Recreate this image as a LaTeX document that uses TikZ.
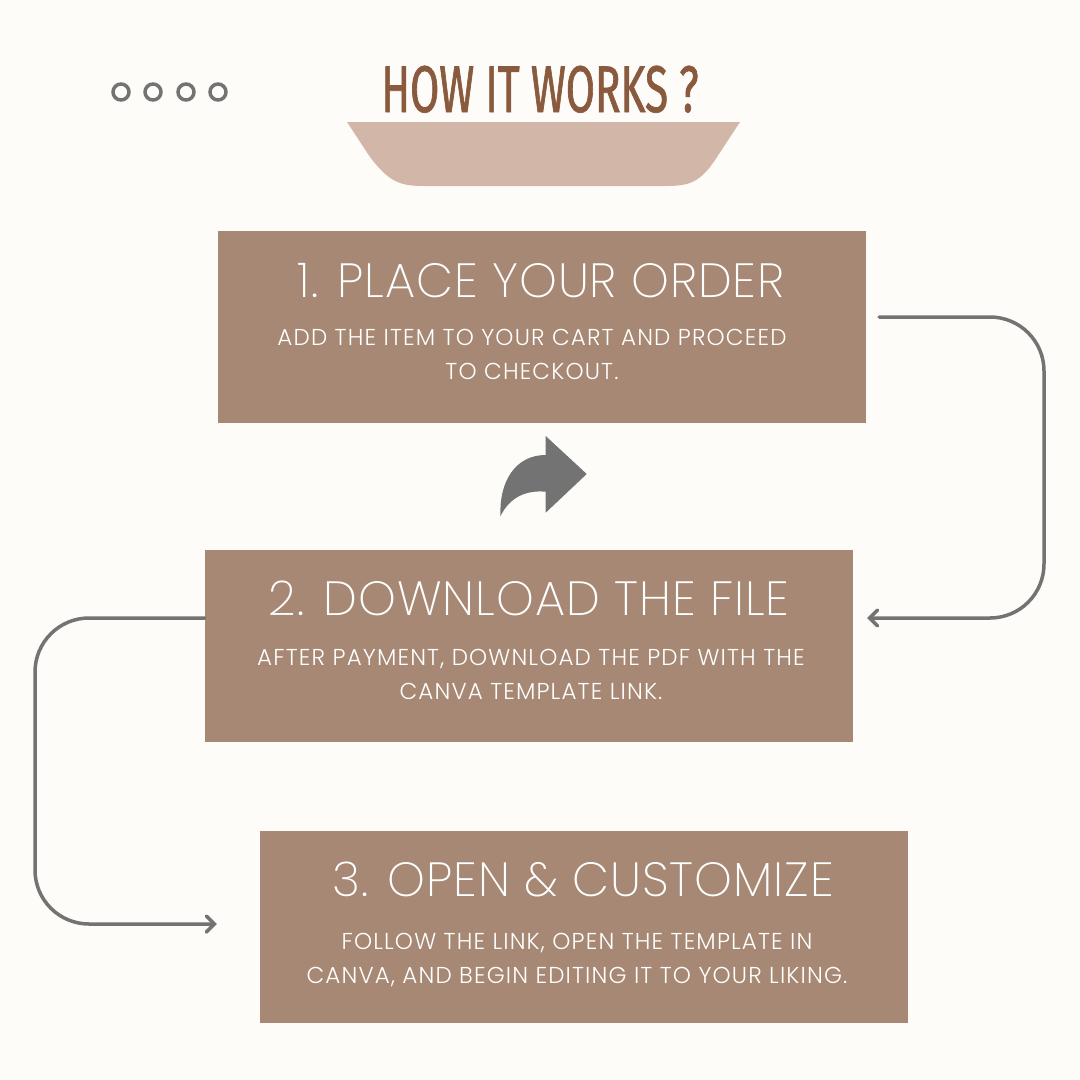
\documentclass[tikz,border=0pt]{standalone}
\usepackage{fontspec}
\setmainfont{Poppins}[UprightFont=* Light, LetterSpace=5]
\newfontfamily\stepheadfont{Poppins}[UprightFont=* ExtraLight, LetterSpace=2]
\newfontfamily\headfont{Fira Sans}[FakeStretch=0.64, FakeBold=1]
\usetikzlibrary{arrows.meta}

\definecolor{bgcream}{HTML}{FDFCF8}
\definecolor{boxbrown}{HTML}{A68874}
\definecolor{trapbeige}{HTML}{D2B7A8}
\definecolor{titlebrown}{HTML}{8A5A3E}
\definecolor{linegray}{HTML}{737373}

\begin{document}
\begin{tikzpicture}[x=1pt, y=-1pt,
  stepbox/.style={fill=boxbrown, minimum width=648pt, minimum height=192pt, inner sep=0pt},
  steptitle/.style={anchor=base, text=white, inner sep=0pt, font=\stepheadfont\fontsize{48}{48}\selectfont},
  stepnote/.style={anchor=base, text=white, inner sep=0pt, align=center, font=\fontsize{23}{34.5}\selectfont},
  flow/.style={draw=linegray, line width=3.5pt, line cap=round, rounded corners=54pt,
    -{Straight Barb[length=8pt, width=16pt, line cap=round]}}]
  % background and page size
  \fill[bgcream] (0,0) rectangle (1080,1080);
  \useasboundingbox (0,0) rectangle (1080,1080);

  % dots top left
  \foreach \x in {121,153,186,218}
    \draw[linegray, line width=3.5pt] (\x,92) circle (8pt);

  % title and tray
  \fill[trapbeige] (347,122) -- (740,122) -- (717,157) .. controls (701,182) and (690,186) .. (666,186)
    -- (424,186) .. controls (400,186) and (389,182) .. (370,157) -- cycle;
  \node[anchor=base, inner sep=0pt, text=titlebrown, font=\headfont\fontsize{66}{66}\selectfont]
    (title) at (540,112) {HOW IT WORKS ?};

  % Step 1
  \node[stepbox] (b1) at (542,327) {};
  \node[steptitle] (b1t) at (541,297) {1. PLACE YOUR ORDER};
  \node[stepnote] (b1d) at (532,379.5) {ADD THE ITEM TO YOUR CART AND PROCEED\\TO CHECKOUT.};

  % Step 2
  \node[stepbox] (b2) at (529,645.5) {};
  \node[steptitle] (b2t) at (529,615.5) {2. DOWNLOAD THE FILE};
  \node[stepnote] (b2d) at (531,699.5) {AFTER PAYMENT, DOWNLOAD THE PDF WITH THE\\CANVA TEMPLATE LINK.};

  % Step 3
  \node[stepbox] (b3) at (584,927) {};
  \node[steptitle] (b3t) at (583,896.5) {3. OPEN \& CUSTOMIZE};
  \node[stepnote] (b3d) at (577,983.5) {FOLLOW THE LINK, OPEN THE TEMPLATE IN\\CANVA, AND BEGIN EDITING IT TO YOUR LIKING.};

  % curved arrow icon
  \fill[linegray] (545.7,455) .. controls (515,455) and (499,482) .. (500.5,516)
    .. controls (510,497) and (526,490) .. (545.7,491.7) -- (545.7,512.7)
    -- (586.7,474) -- (545.7,436) -- cycle;

  % connectors
  \draw[flow] ([xshift=13pt, yshift=10pt]b1.east) -- (1044,317) -- (1044,618)
    -- ([xshift=14pt, yshift=27.5pt]b2.east);
  \draw[flow] ([yshift=27.5pt]b2.west) -- (35,618) -- (35,924)
    -- ([xshift=-43pt, yshift=3pt]b3.west);
\end{tikzpicture}
\end{document}
